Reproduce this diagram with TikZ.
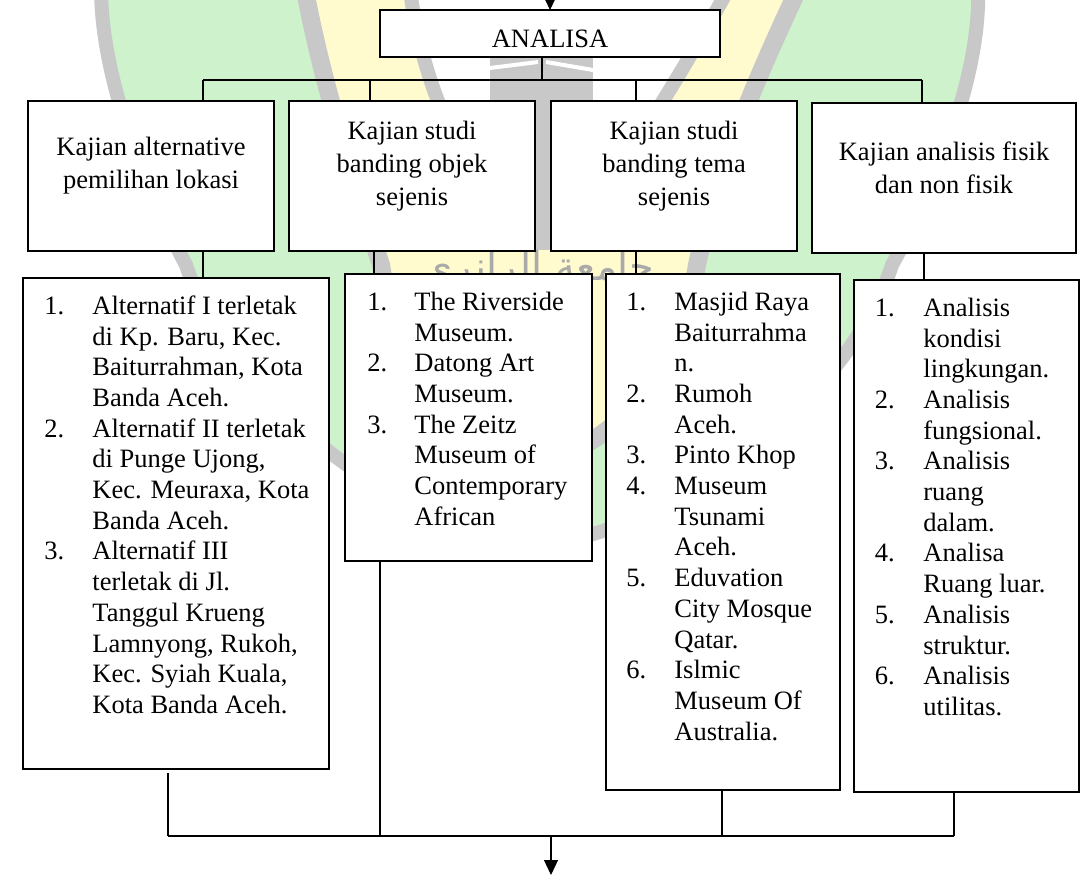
\documentclass[tikz,border=0pt]{standalone}
\usepackage{fontspec}
\setmainfont{Liberation Serif}
\newfontfamily\arabicfont[Script=Arabic]{DejaVu Sans}
\TeXXeTstate=1
\usetikzlibrary{arrows.meta,calc}
\definecolor{wmgreen}{RGB}{205,242,204}
\definecolor{wmyellow}{RGB}{255,251,206}
\definecolor{wmgray}{RGB}{200,200,200}
\tikzset{
  box/.style={draw, line width=1.15pt, fill=white, outer sep=0pt, inner sep=0pt, anchor=north west},
  head/.style={align=center, inner sep=0pt, font=\fontsize{13.25pt}{16.5pt}\selectfont},
  listtext/.style={anchor=north west, inner sep=0pt, font=\fontsize{13.25pt}{15.35pt}\selectfont},
  conn/.style={line width=0.6pt},
  arr/.style={line width=0.6pt, -{Triangle[length=7.5pt,width=7pt]}}
}
\begin{document}
\begin{tikzpicture}[x=0.5pt,y=-0.5pt]
\clip (0,0) rectangle (1081,877);
% ---- watermark (faint logo) ----
\path[fill=wmgreen, draw=wmgray, line width=7pt]
  (103,-40) .. controls (92,40) and (130,160) .. (186,265)
  .. controls (230,400) and (400,530) .. (539,545)
  .. controls (678,530) and (848,400) .. (892,265)
  .. controls (950,160) and (990,40) .. (975,-40) -- cycle;
\path[fill=wmyellow, draw=wmgray, line width=9pt]
  (300,-40) .. controls (315,60) and (350,170) .. (381,265)
  .. controls (400,380) and (470,450) .. (539,460)
  .. controls (608,450) and (678,380) .. (697,265)
  .. controls (715,180) and (745,100) .. (812,-40) -- cycle;
\path[fill=white, draw=wmgray, line width=7pt]
  (407,-40) .. controls (415,80) and (470,200) .. (539,235)
  .. controls (610,200) and (660,110) .. (745,-40) -- cycle;
\path[fill=wmgray] (490,57) rectangle (593,250);
\draw[white, line width=2pt] (490,68) -- (538,62);
\draw[white, line width=2pt] (546,62) -- (593,70);
\node[text=wmgray!85!black, inner sep=0pt, font=\fontsize{20pt}{24pt}\selectfont] (wmtext) at (538,270) {\arabicfont\beginR جامعة الرانري\endR};
% ---- boxes ----
\node[box, minimum width=170pt, minimum height=23.5pt] (AN) at (380,10) {};
\node[inner sep=0pt, font=\fontsize{13.25pt}{16.5pt}\selectfont] (ANt) at (550,38.5) {ANALISA};
\node[box, minimum width=123pt, minimum height=75pt] (B1) at (28,101) {};
\node[box, minimum width=123pt, minimum height=75pt] (B2) at (289,101) {};
\node[box, minimum width=123pt, minimum height=75pt] (B3) at (551,101) {};
\node[box, minimum width=132pt, minimum height=75pt] (B4) at (812,103) {};
\node[head] (B1t) at ($(B1.center)+(0,-10.5)$) {Kajian alternative\\pemilihan lokasi};
\node[head] (B2t) at ($(B2.center)+(0,-10)$) {Kajian studi\\banding objek\\sejenis};
\node[head] (B3t) at ($(B3.center)+(0,-10)$) {Kajian studi\\banding tema\\sejenis};
\node[head] (B4t) at ($(B4.center)+(0,-10)$) {Kajian analisis fisik\\dan non fisik};
\node[box, minimum width=153pt, minimum height=245.5pt] (L1) at (23,278) {};
\node[box, minimum width=123.5pt, minimum height=143.5pt] (L2) at (345,274) {};
\node[box, minimum width=117pt, minimum height=258pt] (L3) at (606,274) {};
\node[box, minimum width=112.5pt, minimum height=256pt] (L4) at (854,280) {};
\node[listtext] (L1t) at ($(L1.north west)+(21,14.5)$) {\begin{tabular}{@{}p{24pt}@{}l@{}}
1. & Alternatif I terletak\\
 & di Kp. Baru, Kec.\\
 & Baiturrahman, Kota\\
 & Banda Aceh.\\
2. & Alternatif II terletak\\
 & di Punge Ujong,\\
 & Kec. Meuraxa, Kota\\
 & Banda Aceh.\\
3. & Alternatif III\\
 & terletak di Jl.\\
 & Tanggul Krueng\\
 & Lamnyong, Rukoh,\\
 & Kec. Syiah Kuala,\\
 & Kota Banda Aceh.
\end{tabular}};
\node[listtext] (L2t) at ($(L2.north west)+(22,14.5)$) {\begin{tabular}{@{}p{23.5pt}@{}l@{}}
1. & The Riverside\\
 & Museum.\\
2. & Datong Art\\
 & Museum.\\
3. & The Zeitz\\
 & Museum of\\
 & Contemporary\\
 & African
\end{tabular}};
\node[listtext] (L3t) at ($(L3.north west)+(20,14.5)$) {\begin{tabular}{@{}p{24pt}@{}l@{}}
1. & Masjid Raya\\
 & Baiturrahma\\
 & n.\\
2. & Rumoh\\
 & Aceh.\\
3. & Pinto Khop\\
4. & Museum\\
 & Tsunami\\
 & Aceh.\\
5. & Eduvation\\
 & City Mosque\\
 & Qatar.\\
6. & Islmic\\
 & Museum Of\\
 & Australia.
\end{tabular}};
\node[listtext] (L4t) at ($(L4.north west)+(20.5,14.5)$) {\begin{tabular}{@{}p{24.25pt}@{}l@{}}
1. & Analisis\\
 & kondisi\\
 & lingkungan.\\
2. & Analisis\\
 & fungsional.\\
3. & Analisis\\
 & ruang\\
 & dalam.\\
4. & Analisa\\
 & Ruang luar.\\
5. & Analisis\\
 & struktur.\\
6. & Analisis\\
 & utilitas.
\end{tabular}};
% ---- connectors ----
\coordinate (in) at (550,-40);
\draw[arr] (in) -- (AN.north);
\coordinate (j0) at (542,80);
\coordinate (d1) at (203,80);
\coordinate (d2) at (370,80);
\coordinate (d3) at (636,80);
\coordinate (d4) at (922,80);
\draw[conn] (j0 |- AN.south) -- (j0);
\draw[conn] (d1) -- (d4);
\draw[conn] (d1) -- (d1 |- B1.north);
\draw[conn] (d2) -- (d2 |- B2.north);
\draw[conn] (d3) -- (d3 |- B3.north);
\draw[conn] (d4) -- (d4 |- B4.north);
\coordinate (m1) at (203,265);
\coordinate (m2) at (374,265);
\coordinate (m3) at (636,265);
\coordinate (m4) at (924,265);
\draw[conn] (m1 |- B1.south) -- (m1 |- L1.north);
\draw[conn] (m2 |- B2.south) -- (m2 |- L2.north);
\draw[conn] (m3 |- B3.south) -- (m3 |- L3.north);
\draw[conn] (m4 |- B4.south) -- (m4 |- L4.north);
\coordinate (e1) at (168,836);
\coordinate (e2) at (380,836);
\coordinate (e3) at (722,836);
\coordinate (e4) at (954,836);
\coordinate (e0) at (551,836);
\coordinate (out) at (551,875);
\draw[conn] ($(e1 |- L1.south)+(0,4)$) -- (e1);
\draw[conn] (e2 |- L2.south) -- (e2);
\draw[conn] (e3 |- L3.south) -- (e3);
\draw[conn] (e4 |- L4.south) -- (e4);
\draw[conn] (e1) -- (e4);
\draw[arr] (e0) -- (out);
\end{tikzpicture}
\end{document}
